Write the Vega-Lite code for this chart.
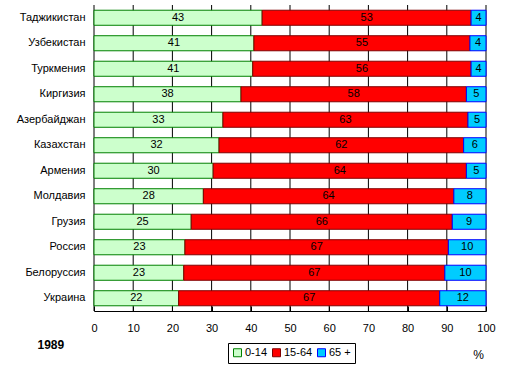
{
  "$schema": "https://vega.github.io/schema/vega-lite/v6.json",
  "width": 392,
  "height": 306,
  "autosize": {"type": "none"},
  "padding": {"left": 94, "top": 5, "right": 26, "bottom": 62},
  "background": "white",
  "config": {
    "view": {"stroke": null},
    "font": "Liberation Sans",
    "axisX": {
      "values": [0, 10, 20, 30, 40, 50, 60, 70, 80, 90, 100],
      "labelOverlap": false,
      "grid": false,
      "domainColor": "black",
      "ticks": true,
      "tickColor": "black",
      "tickSize": -5,
      "labelFontSize": 11,
      "labelColor": "black",
      "labelPadding": 16,
      "labelFlush": false,
      "titleX": 384,
      "titleY": 43,
      "titleAlign": "center",
      "titleBaseline": "middle",
      "titleFontWeight": "normal",
      "titleFontSize": 12,
      "titleColor": "black"
    }
  },
  "datasets": {
    "pop": [
      {"country": "Таджикистан", "group": "0-14", "value": 42.9, "label": "43"},
      {"country": "Таджикистан", "group": "15-64", "value": 53.3, "label": "53"},
      {"country": "Таджикистан", "group": "65 +", "value": 3.8, "label": "4"},
      {"country": "Узбекистан", "group": "0-14", "value": 40.8, "label": "41"},
      {"country": "Узбекистан", "group": "15-64", "value": 55.1, "label": "55"},
      {"country": "Узбекистан", "group": "65 +", "value": 4.1, "label": "4"},
      {"country": "Туркмения", "group": "0-14", "value": 40.5, "label": "41"},
      {"country": "Туркмения", "group": "15-64", "value": 55.7, "label": "56"},
      {"country": "Туркмения", "group": "65 +", "value": 3.8, "label": "4"},
      {"country": "Киргизия", "group": "0-14", "value": 37.5, "label": "38"},
      {"country": "Киргизия", "group": "15-64", "value": 57.5, "label": "58"},
      {"country": "Киргизия", "group": "65 +", "value": 5.0, "label": "5"},
      {"country": "Азербайджан", "group": "0-14", "value": 32.9, "label": "33"},
      {"country": "Азербайджан", "group": "15-64", "value": 62.5, "label": "63"},
      {"country": "Азербайджан", "group": "65 +", "value": 4.6, "label": "5"},
      {"country": "Казахстан", "group": "0-14", "value": 31.9, "label": "32"},
      {"country": "Казахстан", "group": "15-64", "value": 62.4, "label": "62"},
      {"country": "Казахстан", "group": "65 +", "value": 5.7, "label": "6"},
      {"country": "Армения", "group": "0-14", "value": 30.4, "label": "30"},
      {"country": "Армения", "group": "15-64", "value": 64.6, "label": "64"},
      {"country": "Армения", "group": "65 +", "value": 5.0, "label": "5"},
      {"country": "Молдавия", "group": "0-14", "value": 27.9, "label": "28"},
      {"country": "Молдавия", "group": "15-64", "value": 63.9, "label": "64"},
      {"country": "Молдавия", "group": "65 +", "value": 8.2, "label": "8"},
      {"country": "Грузия", "group": "0-14", "value": 24.8, "label": "25"},
      {"country": "Грузия", "group": "15-64", "value": 66.6, "label": "66"},
      {"country": "Грузия", "group": "65 +", "value": 8.6, "label": "9"},
      {"country": "Россия", "group": "0-14", "value": 23.2, "label": "23"},
      {"country": "Россия", "group": "15-64", "value": 67.2, "label": "67"},
      {"country": "Россия", "group": "65 +", "value": 9.6, "label": "10"},
      {"country": "Белоруссия", "group": "0-14", "value": 22.9, "label": "23"},
      {"country": "Белоруссия", "group": "15-64", "value": 66.6, "label": "67"},
      {"country": "Белоруссия", "group": "65 +", "value": 10.5, "label": "10"},
      {"country": "Украина", "group": "0-14", "value": 21.6, "label": "22"},
      {"country": "Украина", "group": "15-64", "value": 66.6, "label": "67"},
      {"country": "Украина", "group": "65 +", "value": 11.8, "label": "12"}
    ],
    "grid": [
      {"t": 0}, {"t": 10}, {"t": 20}, {"t": 30}, {"t": 40}, {"t": 50},
      {"t": 60}, {"t": 70}, {"t": 80}, {"t": 90}, {"t": 100}
    ]
  },
  "layer": [
    {
      "data": {"name": "grid"},
      "mark": {"type": "rect", "fill": null, "stroke": "black", "strokeWidth": 1, "strokeDash": [3, 3]},
      "encoding": {
        "x": {
          "field": "t",
          "type": "quantitative",
          "scale": {"domain": [0, 100], "nice": false},
          "axis": {"title": "%"}
        },
        "x2": {"field": "t"}
      }
    },
    {
      "data": {"name": "pop"},
      "transform": [
        {"stack": "value", "groupby": ["country"], "sort": [{"field": "group", "order": "ascending"}], "as": ["v0", "v1"]},
        {"calculate": "(datum.v0 + datum.v1) / 2", "as": "mid"}
      ],
      "encoding": {
        "y": {
          "field": "country",
          "type": "nominal",
          "sort": null,
          "scale": {"paddingInner": 0.41, "paddingOuter": 0.205},
          "axis": {
            "domain": false,
            "ticks": false,
            "grid": false,
            "labelPadding": 9,
            "labelFontSize": 11,
            "labelColor": "black",
            "title": "1989",
            "titleAngle": 0,
            "titleX": -57,
            "titleY": 339,
            "titleAlign": "left",
            "titleBaseline": "middle",
            "titleFontWeight": "bold",
            "titleFontSize": 12,
            "titleColor": "black"
          }
        }
      },
      "layer": [
        {
          "mark": {"type": "bar", "strokeWidth": 1},
          "encoding": {
            "x": {"field": "v0", "type": "quantitative", "axis": {"title": "%"}},
            "x2": {"field": "v1"},
            "fill": {
              "field": "group",
              "type": "nominal",
              "scale": {"domain": ["0-14", "15-64", "65 +"], "range": ["#ccffcc", "#ff0000", "#00ccff"]},
              "legend": {
                "orient": "none",
                "legendX": 134,
                "legendY": 338,
                "direction": "horizontal",
                "title": null,
                "strokeColor": "black",
                "padding": 4,
                "symbolType": "square",
                "symbolSize": 64,
                "symbolStrokeWidth": 1,
                "labelFontSize": 11,
                "labelColor": "black",
                "labelOffset": 2,
                "columnPadding": 2
              }
            },
            "stroke": {
              "field": "group",
              "type": "nominal",
              "scale": {"domain": ["0-14", "15-64", "65 +"], "range": ["#008000", "#800000", "#0000ff"]},
              "legend": {
                "orient": "none",
                "legendX": 134,
                "legendY": 338,
                "direction": "horizontal",
                "title": null,
                "strokeColor": "black",
                "padding": 4,
                "symbolType": "square",
                "symbolSize": 64,
                "symbolStrokeWidth": 1,
                "labelFontSize": 11,
                "labelColor": "black",
                "labelOffset": 2,
                "columnPadding": 2
              }
            }
          }
        },
        {
          "mark": {"type": "text", "fontSize": 11, "color": "black"},
          "encoding": {
            "x": {"field": "mid", "type": "quantitative", "axis": {"title": "%"}},
            "text": {"field": "label", "type": "nominal"}
          }
        }
      ]
    }
  ]
}
